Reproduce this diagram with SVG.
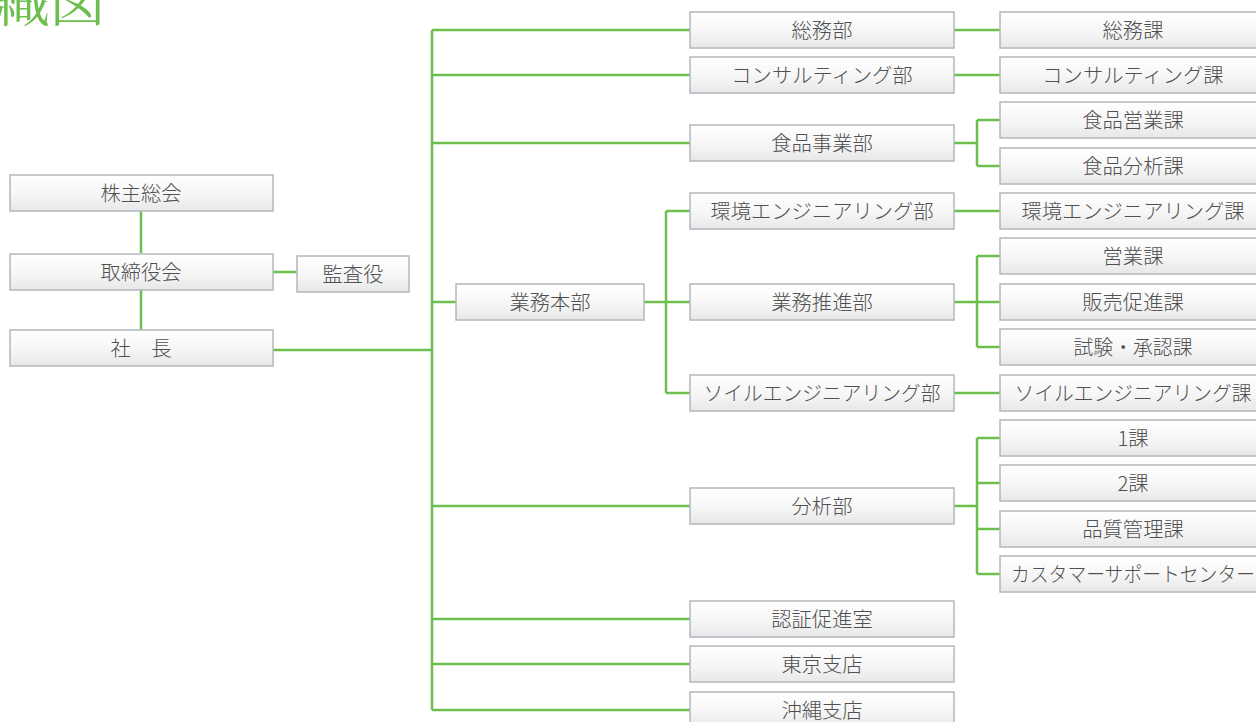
<svg xmlns="http://www.w3.org/2000/svg" width="1256" height="722" viewBox="0 0 1256 722">
<defs>
<linearGradient id="g" x1="0" y1="0" x2="0" y2="1">
<stop offset="0" stop-color="#ffffff"/>
<stop offset="0.55" stop-color="#f6f6f6"/>
<stop offset="1" stop-color="#e6e7e8"/>
</linearGradient>
</defs>
<style>
.b{fill:url(#g);stroke:#b3b8bd;stroke-width:1.5}
.t{font-family:"Noto Sans CJK JP",sans-serif;font-size:20.3px;font-weight:300;fill:#505050;text-anchor:middle;dominant-baseline:central}
.c{fill:none;stroke:#6cbf4d;stroke-width:2.5}
.title{font-family:"Noto Serif CJK JP","Noto Sans CJK JP",serif;font-size:55px;fill:#6cbf4d}
</style>
<rect width="1256" height="722" fill="#fff"/>
<text class="title" x="-60" y="21">組織図</text>
<g id="connectors">
<path class="c" d="M141 211V253M141 290V330M273 272H297M273 350H432"/>
<path class="c" d="M432 30V710M432 30H690M432 75H690M432 143H690M432 302H456M432 506H690M432 619H690M432 664H690M432 710H690"/>
<path class="c" d="M644 302H690M666 211V393M666 211H690M666 393H690"/>
<path class="c" d="M954 30H1000M954 75H1000M954 211H1000M954 393H1000"/>
<path class="c" d="M954 143H977M977 120V166M977 120H1000M977 166H1000"/>
<path class="c" d="M954 302H1000M977 256V347M977 256H1000M977 347H1000"/>
<path class="c" d="M954 506H977M977 438V574M977 438H1000M977 483H1000M977 529H1000M977 574H1000"/>
</g>
<g id="n-kabunushi"><rect class="b" x="10" y="175" width="263" height="36"/><text class="t" x="141" y="192">株主総会</text></g>
<g id="n-torishimari"><rect class="b" x="10" y="254" width="263" height="36"/><text class="t" x="141" y="271">取締役会</text></g>
<g id="n-kansa"><rect class="b" x="297" y="256" width="112" height="36"/><text class="t" x="353" y="273">監査役</text></g>
<g id="n-shacho"><rect class="b" x="10" y="330" width="263" height="36"/><text class="t" x="141" y="347" xml:space="preserve">社　長</text></g>
<g id="n-honbu"><rect class="b" x="456" y="284" width="188" height="36"/><text class="t" x="550" y="301">業務本部</text></g>
<g id="n-somu"><rect class="b" x="690" y="12" width="264" height="36"/><text class="t" x="822" y="29">総務部</text></g>
<g id="n-consul"><rect class="b" x="690" y="57" width="264" height="36"/><text class="t" x="822" y="74">コンサルティング部</text></g>
<g id="n-shokuhin"><rect class="b" x="690" y="125" width="264" height="36"/><text class="t" x="822" y="142">食品事業部</text></g>
<g id="n-kankyo"><rect class="b" x="690" y="193" width="264" height="36"/><text class="t" x="822" y="210">環境エンジニアリング部</text></g>
<g id="n-suishin"><rect class="b" x="690" y="284" width="264" height="36"/><text class="t" x="822" y="301">業務推進部</text></g>
<g id="n-soil"><rect class="b" x="690" y="375" width="264" height="36"/><text class="t" x="822" y="392" textLength="237" lengthAdjust="spacingAndGlyphs">ソイルエンジニアリング部</text></g>
<g id="n-bunseki"><rect class="b" x="690" y="488" width="264" height="36"/><text class="t" x="822" y="505">分析部</text></g>
<g id="n-ninsho"><rect class="b" x="690" y="601" width="264" height="36"/><text class="t" x="822" y="618">認証促進室</text></g>
<g id="n-tokyo"><rect class="b" x="690" y="646" width="264" height="36"/><text class="t" x="822" y="663">東京支店</text></g>
<g id="n-okinawa"><rect class="b" x="690" y="692" width="264" height="36"/><text class="t" x="822" y="709">沖縄支店</text></g>
<g id="n-somuka"><rect class="b" x="1000" y="12" width="266" height="36"/><text class="t" x="1133" y="29">総務課</text></g>
<g id="n-consulka"><rect class="b" x="1000" y="57" width="266" height="36"/><text class="t" x="1133" y="74">コンサルティング課</text></g>
<g id="n-shokueigyo"><rect class="b" x="1000" y="102" width="266" height="36"/><text class="t" x="1133" y="119">食品営業課</text></g>
<g id="n-shokubunseki"><rect class="b" x="1000" y="148" width="266" height="36"/><text class="t" x="1133" y="165">食品分析課</text></g>
<g id="n-kankyoka"><rect class="b" x="1000" y="193" width="266" height="36"/><text class="t" x="1133" y="210">環境エンジニアリング課</text></g>
<g id="n-eigyo"><rect class="b" x="1000" y="238" width="266" height="36"/><text class="t" x="1133" y="255">営業課</text></g>
<g id="n-hanbai"><rect class="b" x="1000" y="284" width="266" height="36"/><text class="t" x="1133" y="301">販売促進課</text></g>
<g id="n-shiken"><rect class="b" x="1000" y="329" width="266" height="36"/><text class="t" x="1133" y="346" textLength="119" lengthAdjust="spacingAndGlyphs">試験・承認課</text></g>
<g id="n-soilka"><rect class="b" x="1000" y="375" width="266" height="36"/><text class="t" x="1133" y="392" textLength="237" lengthAdjust="spacingAndGlyphs">ソイルエンジニアリング課</text></g>
<g id="n-ika"><rect class="b" x="1000" y="420" width="266" height="36"/><text class="t" x="1133" y="437">1課</text></g>
<g id="n-nika"><rect class="b" x="1000" y="465" width="266" height="36"/><text class="t" x="1133" y="482">2課</text></g>
<g id="n-hinshitsu"><rect class="b" x="1000" y="511" width="266" height="36"/><text class="t" x="1133" y="528">品質管理課</text></g>
<g id="n-cs"><rect class="b" x="1000" y="556" width="266" height="36"/><text class="t" x="1133" y="573" textLength="244" lengthAdjust="spacingAndGlyphs">カスタマーサポートセンター</text></g>
</svg>
